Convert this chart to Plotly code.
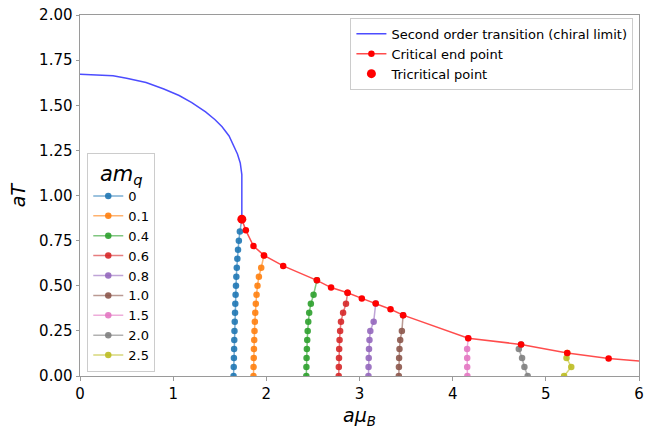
import plotly.graph_objects as go

# Second order transition line in the chiral limit
chiral_mu = [0.0, 0.2, 0.355, 0.5, 0.709, 0.9, 1.064, 1.2, 1.348, 1.45, 1.525, 1.6,
             1.649, 1.69, 1.72, 1.733, 1.737, 1.737]
chiral_T = [1.672, 1.669, 1.663, 1.650, 1.626, 1.59, 1.554, 1.515, 1.463, 1.42, 1.381,
            1.33, 1.280, 1.23, 1.18, 1.145, 1.116, 0.869]

# Critical end points
cep_mu = [1.737, 1.78, 1.862, 1.975, 2.181, 2.543, 2.695, 2.872, 3.025, 3.174, 3.333,
          3.468, 4.167, 4.734, 5.23, 5.674, 6.2]
cep_T = [0.869, 0.807, 0.72, 0.668, 0.610, 0.530, 0.490, 0.461, 0.430, 0.401, 0.370,
         0.337, 0.209, 0.175, 0.127, 0.097, 0.075]

# Tricritical point
tcp_mu = [1.737]
tcp_T = [0.869]

# First order lines for each quark mass
mq_labels = ["0", "0.1", "0.4", "0.6", "0.8", "1.0", "1.5", "2.0", "2.5"]

mu_m00 = [1.648, 1.650, 1.652, 1.654, 1.656, 1.658, 1.661, 1.664, 1.667, 1.670, 1.674,
          1.678, 1.683, 1.689, 1.696, 1.705, 1.716, 1.737]
T_m00 = [0.00, 0.05, 0.10, 0.15, 0.20, 0.25, 0.30, 0.35, 0.40, 0.45, 0.50, 0.55, 0.60,
         0.65, 0.70, 0.75, 0.80, 0.869]

mu_m01 = [1.862, 1.863, 1.865, 1.867, 1.870, 1.873, 1.877, 1.881, 1.887, 1.895, 1.905,
          1.920, 1.945, 1.975]
T_m01 = [0.00, 0.05, 0.10, 0.15, 0.20, 0.25, 0.30, 0.35, 0.40, 0.45, 0.50, 0.55, 0.60,
         0.668]

mu_m04 = [2.429, 2.430, 2.432, 2.435, 2.439, 2.444, 2.450, 2.460, 2.478, 2.507, 2.543]
T_m04 = [0.00, 0.05, 0.10, 0.15, 0.20, 0.25, 0.30, 0.35, 0.40, 0.45, 0.530]

mu_m06 = [2.777, 2.778, 2.780, 2.782, 2.786, 2.792, 2.801, 2.824, 2.855, 2.872]
T_m06 = [0.00, 0.05, 0.10, 0.15, 0.20, 0.25, 0.30, 0.35, 0.40, 0.461]

mu_m08 = [3.096, 3.097, 3.099, 3.102, 3.107, 3.116, 3.152, 3.174]
T_m08 = [0.00, 0.05, 0.10, 0.15, 0.20, 0.25, 0.30, 0.401]

mu_m10 = [3.422, 3.423, 3.425, 3.429, 3.437, 3.455, 3.468]
T_m10 = [0.00, 0.05, 0.10, 0.15, 0.20, 0.25, 0.337]

mu_m15 = [4.158, 4.156, 4.156, 4.155, 4.167]
T_m15 = [0.00, 0.05, 0.10, 0.15, 0.209]

mu_m20 = [4.805, 4.770, 4.745, 4.710, 4.734]
T_m20 = [0.00, 0.05, 0.10, 0.15, 0.175]

mu_m25 = [5.196, 5.273, 5.222, 5.230]
T_m25 = [0.00, 0.05, 0.10, 0.127]

mass_mu = [mu_m00, mu_m01, mu_m04, mu_m06, mu_m08, mu_m10, mu_m15, mu_m20, mu_m25]
mass_T = [T_m00, T_m01, T_m04, T_m06, T_m08, T_m10, T_m15, T_m20, T_m25]

tab10 = [(31, 119, 180), (255, 127, 14), (44, 160, 44), (214, 39, 40), (148, 103, 189),
         (140, 86, 75), (227, 119, 194), (127, 127, 127), (188, 189, 34)]

x_ticks = [0, 1, 2, 3, 4, 5, 6]
y_ticks = [0.0, 0.25, 0.5, 0.75, 1.0, 1.25, 1.5, 1.75, 2.0]

FONT = "DejaVu Sans"
AXIS_GRAY = "#9a9a9a"

fig = go.Figure()

for i, (lab, xs, ys) in enumerate(zip(mq_labels, mass_mu, mass_T)):
    r, g, b = tab10[i]
    fig.add_trace(go.Scatter(
        x=xs, y=ys, mode="lines+markers", name=lab,
        line=dict(color=f"rgba({r},{g},{b},0.6)", width=1.5),
        marker=dict(color=f"rgba({r},{g},{b},0.9)", size=6.5, line=dict(width=0)),
        legend="legend2",
    ))

fig.add_trace(go.Scatter(
    x=chiral_mu, y=chiral_T, mode="lines",
    name="Second order transition (chiral limit)",
    line=dict(color="rgba(0,0,255,0.7)", width=1.5),
    legend="legend",
))

fig.add_trace(go.Scatter(
    x=cep_mu, y=cep_T, mode="lines+markers", name="Critical end point",
    line=dict(color="rgba(255,0,0,0.7)", width=1.5),
    marker=dict(color="#ff0000", size=6.5, line=dict(width=0)),
    legend="legend",
))

fig.add_trace(go.Scatter(
    x=tcp_mu, y=tcp_T, mode="markers", name="Tricritical point",
    marker=dict(color="#ff0000", size=9, line=dict(width=0)),
    legend="legend",
))

axis_common = dict(
    showline=True, linecolor=AXIS_GRAY, linewidth=1, mirror=True,
    ticks="outside", ticklen=3.5, tickwidth=1, tickcolor=AXIS_GRAY,
    showgrid=False, zeroline=False,
    tickfont=dict(family=FONT, size=15, color="#000000"),
)

fig.update_layout(
    width=649, height=429,
    margin=dict(l=80, r=5, t=15, b=48),
    paper_bgcolor="white", plot_bgcolor="white",
    font=dict(family=FONT, color="#000000"),
    xaxis=dict(
        range=[0, 6], tickvals=x_ticks, ticktext=[str(v) for v in x_ticks],
        title=dict(text="<i>aμ</i><sub><i>B</i></sub>",
                   font=dict(family=FONT, size=19), standoff=8),
        **axis_common,
    ),
    yaxis=dict(
        range=[0, 2], tickvals=y_ticks, ticktext=[f"{v:.2f}" for v in y_ticks],
        title=dict(text="<i>aT</i>", font=dict(family=FONT, size=19), standoff=8),
        **axis_common,
    ),
    legend=dict(
        x=0.99, y=0.992, xanchor="right", yanchor="top",
        bgcolor="rgba(255,255,255,0.8)", bordercolor="#cccccc", borderwidth=1,
        font=dict(family=FONT, size=13), tracegroupgap=0,
    ),
    legend2=dict(
        x=0.013, y=0.012, xanchor="left", yanchor="bottom",
        bgcolor="rgba(255,255,255,0.8)", bordercolor="#cccccc", borderwidth=1,
        font=dict(family=FONT, size=13), tracegroupgap=0,
        title=dict(text="<i>am</i><sub><i>q</i></sub>", side="top center",
                   font=dict(family=FONT, size=21)),
    ),
    showlegend=True,
)

fig.write_html("out.html")
